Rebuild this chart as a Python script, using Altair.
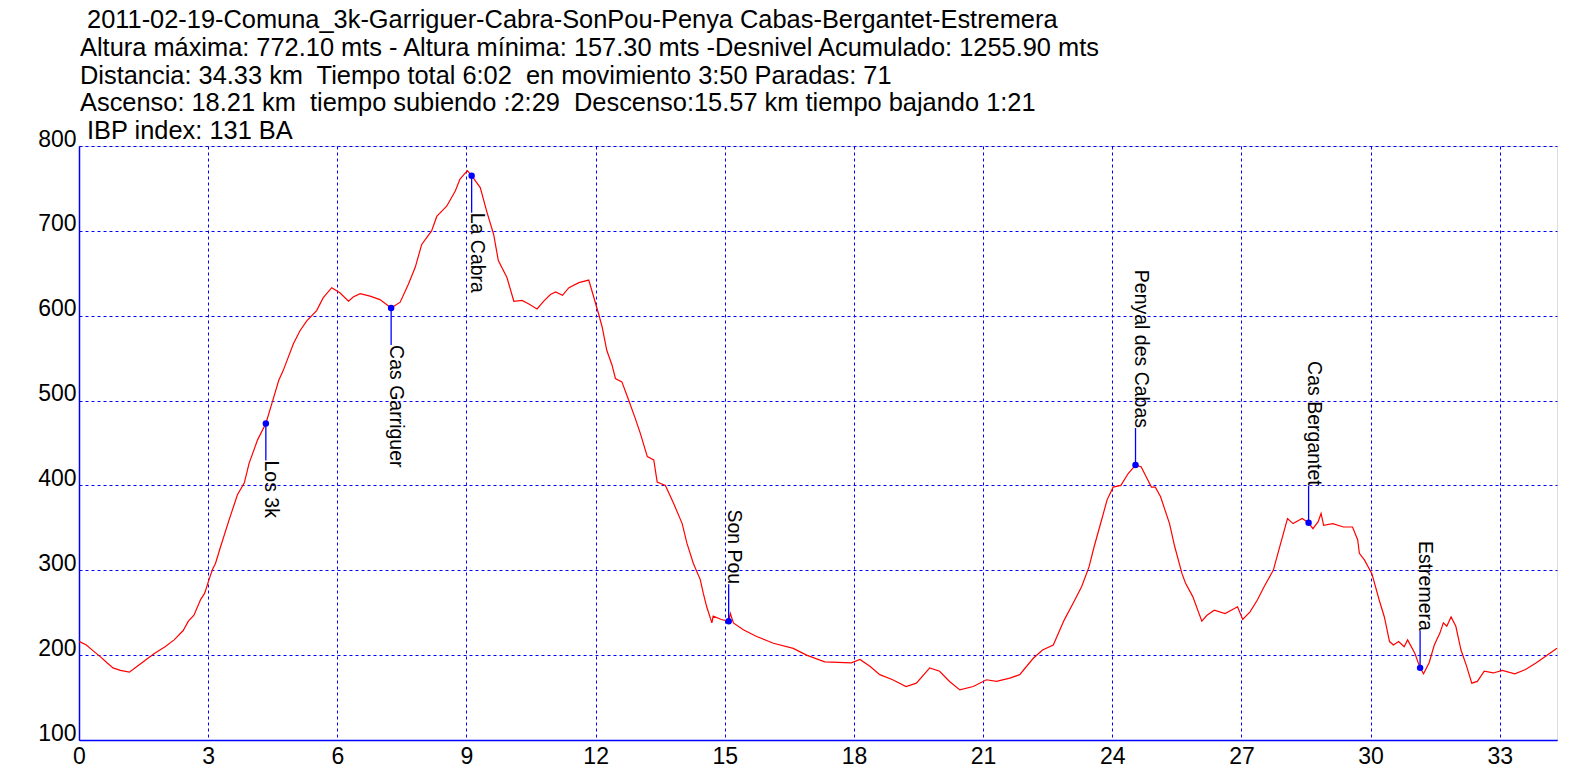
import altair as alt
import pandas as pd

# ---- profile data (distance km, elevation m) ----
dist_km = [0.00, 0.05, 0.17, 0.33, 0.50, 0.65, 0.79, 0.96, 1.17, 1.33, 1.54, 1.75, 2.00, 2.21, 2.42,
           2.54, 2.67, 2.83, 2.92, 3.02, 3.10, 3.17, 3.29, 3.49, 3.68, 3.84, 3.95, 4.15, 4.34, 4.50,
           4.64, 4.74, 4.98, 5.13, 5.29, 5.52, 5.67, 5.87, 6.06, 6.26, 6.37, 6.53, 6.76, 6.99, 7.25,
           7.46, 7.65, 7.81, 7.96, 8.19, 8.31, 8.54, 8.74, 8.85, 9.02, 9.12, 9.32, 9.47, 9.63, 9.74,
           9.94, 10.10, 10.29, 10.44, 10.64, 10.79, 10.95, 11.07, 11.23, 11.38, 11.61, 11.84, 11.91,
           12.07, 12.15, 12.26, 12.38, 12.46, 12.61, 12.77, 12.92, 13.04, 13.20, 13.35, 13.43, 13.62,
           13.81, 14.01, 14.12, 14.27, 14.43, 14.50, 14.58, 14.70, 14.73, 14.92, 15.09, 15.13, 15.20,
           15.43, 15.74, 16.13, 16.59, 16.90, 17.32, 17.94, 18.14, 18.37, 18.60, 18.90, 19.21, 19.45,
           19.76, 19.99, 20.22, 20.46, 20.77, 21.08, 21.31, 21.62, 21.85, 22.16, 22.38, 22.63, 22.88,
           23.13, 23.29, 23.46, 23.58, 23.75, 23.88, 24.02, 24.20, 24.37, 24.54, 24.67, 24.79, 24.91,
           25.00, 25.12, 25.33, 25.45, 25.62, 25.70, 25.87, 26.08, 26.20, 26.37, 26.62, 26.91, 27.03,
           27.20, 27.37, 27.53, 27.74, 27.87, 28.07, 28.20, 28.41, 28.56, 28.66, 28.78, 28.85, 28.91,
           29.12, 29.37, 29.58, 29.70, 29.74, 29.86, 30.03, 30.20, 30.32, 30.44, 30.53, 30.65, 30.78,
           30.86, 31.03, 31.15, 31.23, 31.36, 31.48, 31.61, 31.69, 31.77, 31.87, 31.98, 32.10, 32.23,
           32.35, 32.48, 32.64, 32.85, 33.06, 33.35, 33.60, 33.85, 34.10, 34.33]
elev_m = [216, 215, 212, 205, 198, 191, 185, 182, 180, 186, 194, 202, 210, 218, 229,
          240, 247, 266, 273, 289, 301, 308, 328, 360, 389, 403, 426, 454, 473, 500,
          524, 535, 567, 582, 594, 606, 621, 633, 627, 617, 622, 626, 623, 619, 609,
          616, 637, 657, 684, 700, 717, 729, 747, 761, 771, 765, 751, 723, 696, 665,
          645, 617, 618, 614, 608, 617, 625, 628, 624, 633, 639, 642, 630,
          602, 587, 559, 542, 526, 522, 500, 479, 461, 434, 430, 404, 400,
          379, 355, 332, 308, 289, 273, 257, 238, 246, 242, 240, 249, 238,
          230, 222, 214, 208, 200, 192, 191, 195, 187, 177, 171, 163, 167,
          185, 181, 169, 159, 163, 171, 169, 173, 177, 196, 206, 212, 241,
          265, 281, 304, 328, 359, 383, 398, 400, 414, 424, 422, 410, 398,
          398, 387, 355, 328, 296, 285, 269, 240, 247, 253, 249, 257, 242,
          251, 265, 281, 300, 324, 361, 355, 361, 356, 349, 357, 367, 353,
          355, 351, 351, 336, 320, 312, 296, 265, 245, 216, 212, 216, 210,
          218, 202, 185, 178, 191, 212, 226, 238, 234, 245, 234, 206, 187,
          167, 169, 181, 179, 182, 178, 183, 191, 200, 208]

# ---- waypoints ----
wp_names = ["Los 3k", "Cas Garriguer", "La Cabra", "Son Pou", "Penyal des Cabas",
            "Cas Bergantet", "Estremera"]
wp_km = [4.34, 7.25, 9.12, 15.09, 24.54, 28.56, 31.15]
wp_elev = [473, 609, 765, 240, 424, 356, 185]
wp_side = ["below", "below", "below", "above", "above", "above", "above"]

NB = "\u00a0"
LEAD = "\u200b\u00a0"  # leading space that survives trimming
title_lines = [
    LEAD + "2011-02-19-Comuna_3k-Garriguer-Cabra-SonPou-Penya Cabas-Bergantet-Estremera",
    "Altura máxima: 772.10 mts - Altura mínima: 157.30 mts -Desnivel Acumulado: 1255.90 mts",
    "Distancia: 34.33 km" + NB + " Tiempo total 6:02" + NB + " en movimiento 3:50 Paradas: 71",
    "Ascenso: 18.21 km" + NB + " tiempo subiendo :2:29" + NB + " Descenso:15.57 km tiempo bajando 1:21",
    LEAD + "IBP index: 131 BA",
]

x_ticks = [0, 3, 6, 9, 12, 15, 18, 21, 24, 27, 30, 33]
y_ticks = [100, 200, 300, 400, 500, 600, 700, 800]

X_MAX = 34.33
Y_MIN, Y_MAX = 100, 800
PLOT_W, PLOT_H = 1478, 594
LEADER_PX = 37
FONT = "Liberation Sans"
BLUE = "#0000ff"

m_per_px = (Y_MAX - Y_MIN) / PLOT_H

prof = pd.DataFrame({"km": dist_km, "elev": elev_m})
wp = pd.DataFrame({"name": wp_names, "km": wp_km, "elev": wp_elev, "side": wp_side})
wp["end"] = [e - LEADER_PX * m_per_px if s == "below" else e + LEADER_PX * m_per_px
             for e, s in zip(wp["elev"], wp["side"])]

xs = alt.Scale(domain=[0, X_MAX], nice=False, zero=False)
ys = alt.Scale(domain=[Y_MIN, Y_MAX], nice=False, zero=False)

x_axis = alt.Axis(values=x_ticks, title=None, grid=True, gridColor=BLUE, gridDash=[3, 3],
                  gridWidth=1, gridOpacity=1, domainColor=BLUE, domainWidth=1.5,
                  ticks=False, tickSize=0, labelFont=FONT, labelFontSize=23,
                  labelColor="black", labelPadding=5, labelFlush=False, labelOverlap=False,
                  format="d")
y_axis = alt.Axis(values=y_ticks, title=None, grid=True, gridColor=BLUE, gridDash=[3, 3],
                  gridWidth=1, gridOpacity=1, domainColor=BLUE, domainWidth=1.5,
                  ticks=False, tickSize=0, labelFont=FONT, labelFontSize=23,
                  labelColor="black", labelPadding=3, labelBaseline="alphabetic",
                  labelOverlap=False, format="d")

line = alt.Chart(prof).mark_line(color="#ff0000", strokeWidth=1.2).encode(
    x=alt.X("km:Q", scale=xs, axis=x_axis),
    y=alt.Y("elev:Q", scale=ys, axis=y_axis),
)

rules = alt.Chart(wp).mark_rule(color=BLUE, strokeWidth=1.3).encode(
    x=alt.X("km:Q", scale=xs), y=alt.Y("elev:Q", scale=ys), y2="end:Q")

dots = alt.Chart(wp).mark_circle(color=BLUE, size=42, opacity=1).encode(
    x=alt.X("km:Q", scale=xs), y=alt.Y("elev:Q", scale=ys))

lab_below = alt.Chart(wp).transform_filter(alt.datum.side == "below").mark_text(
    angle=90, align="left", baseline="alphabetic", dx=LEADER_PX, dy=1,
    font=FONT, fontSize=19.5, color="black").encode(
    x=alt.X("km:Q", scale=xs), y=alt.Y("elev:Q", scale=ys), text="name:N")

lab_above = alt.Chart(wp).transform_filter(alt.datum.side == "above").mark_text(
    angle=90, align="right", baseline="alphabetic", dx=-LEADER_PX, dy=1,
    font=FONT, fontSize=19.5, color="black").encode(
    x=alt.X("km:Q", scale=xs), y=alt.Y("elev:Q", scale=ys), text="name:N")

chart = alt.layer(line, rules, dots, lab_below, lab_above).properties(
    width=PLOT_W, height=PLOT_H,
    padding={"left": 71, "top": 138, "right": 20, "bottom": 35},
    autosize="none",
    title=alt.TitleParams(text=title_lines, anchor="start", frame="group", font=FONT,
                          fontSize=25.4, fontWeight="normal", color="black",
                          lineHeight=27.7, baseline="alphabetic", offset=8, dx=1, dy=44.5),
).configure_view(stroke=BLUE, strokeWidth=1.5).configure(background="white")

chart.save("out.html", embed_options={"renderer": "svg", "actions": False})
